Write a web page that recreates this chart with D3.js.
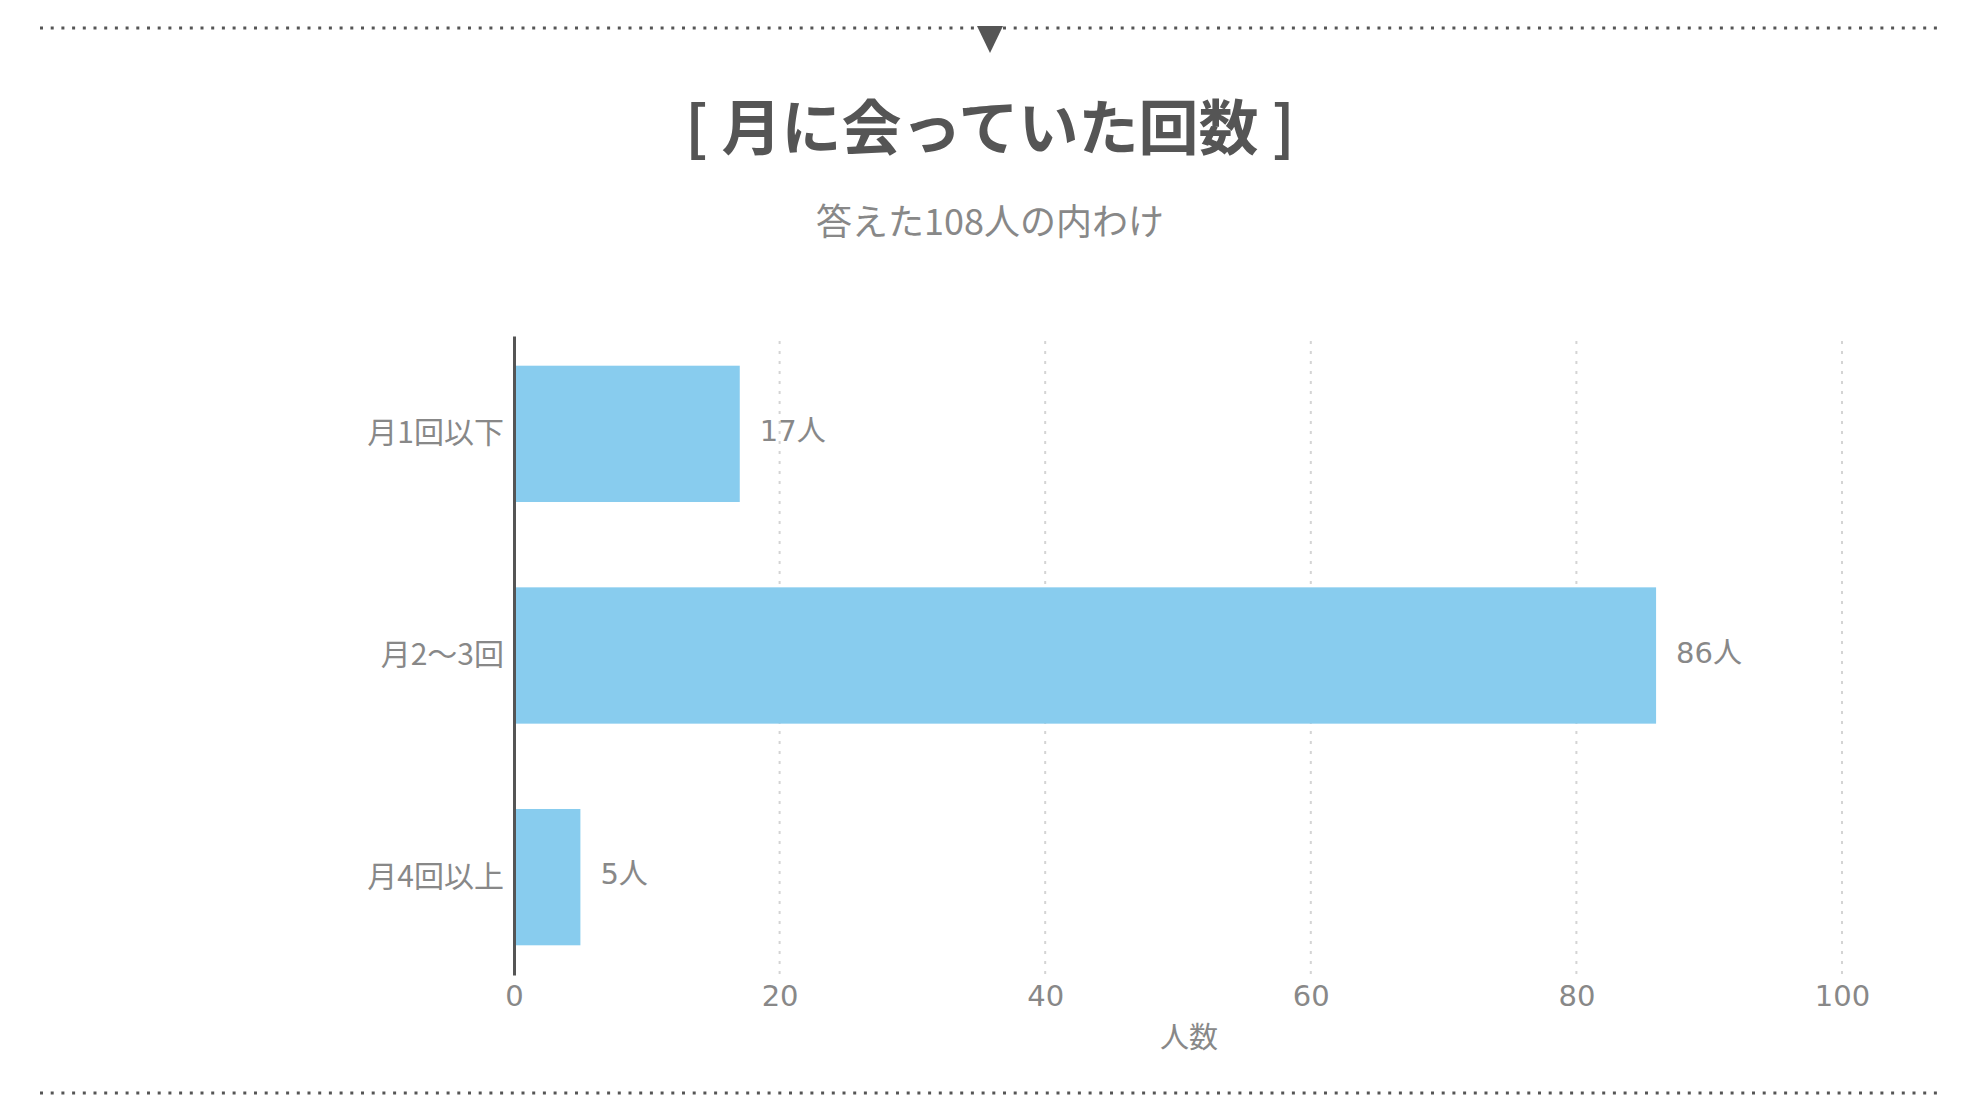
<!DOCTYPE html>
<html>
<head>
<meta charset="utf-8">
<script src="https://cdn.jsdelivr.net/npm/d3@7"></script>
<style>
  body { margin: 0; background: #fff; }
  text { font-family: "Noto Sans CJK JP", "Noto Sans", sans-serif; }
</style>
</head>
<body>
<script>
const categories = ['月1回以下', '月2〜3回', '月4回以上']
const counts = [17, 86, 5]
const xTicks = [0, 20, 40, 60, 80, 100]
const title = '[ 月に会っていた回数 ]'
const subtitle = '答えた108人の内わけ'
const xTitle = '人数'

const width = 1980
const height = 1120
const margin = { top: 336, right: 138, bottom: 145, left: 514 }
const numFont = '"DejaVu Sans", "Noto Sans CJK JP", sans-serif'

const svg = d3.select('body').append('svg')
  .attr('width', width)
  .attr('height', height)

// dotted frame lines + marker
const frame = [28, 1093]
svg.selectAll('line.frame').data(frame).enter().append('line')
  .attr('class', 'frame')
  .attr('x1', 40).attr('x2', 1941)
  .attr('y1', d => d).attr('y2', d => d)
  .style('stroke', '#555')
  .style('stroke-width', 3)
  .style('stroke-dasharray', '3,7.7')

svg.append('path')
  .attr('d', 'M977,26 L1003,26 L990,53 Z')
  .style('fill', '#555')

svg.append('text')
  .attr('x', width / 2).attr('y', 123)
  .attr('text-anchor', 'middle')
  .attr('dominant-baseline', 'central')
  .style('font-size', '60px')
  .style('font-weight', 700)
  .style('fill', '#555')
  .text(title)

svg.append('text')
  .attr('x', width / 2).attr('y', 219)
  .attr('text-anchor', 'middle')
  .attr('dominant-baseline', 'central')
  .style('font-size', '36px')
  .style('fill', '#888')
  .text(subtitle)

const x = d3.scaleLinear()
  .domain([0, 100])
  .range([margin.left, width - margin.right])

const y = d3.scaleBand()
  .domain(categories)
  .range([margin.top, height - margin.bottom])
  .paddingInner(0.385)
  .paddingOuter(0.134)

const g = svg.append('g')

// grid
g.selectAll('line.grid').data(xTicks.slice(1)).enter().append('line')
  .attr('class', 'grid')
  .attr('x1', d => x(d)).attr('x2', d => x(d))
  .attr('y1', 341).attr('y2', 974)
  .style('stroke', '#d4d4d4')
  .style('stroke-width', 2)
  .style('stroke-dasharray', '3,7')

// bars
g.selectAll('rect').data(counts).enter().append('rect')
  .attr('x', x(0))
  .attr('y', (d, i) => y(categories[i]))
  .attr('width', d => x(d) - x(0))
  .attr('height', y.bandwidth())
  .style('fill', '#88CCEE')

g.selectAll('text.value').data(counts).enter().append('text')
  .attr('class', 'value')
  .attr('x', d => x(d) + 20)
  .attr('y', (d, i) => y(categories[i]) + y.bandwidth() / 2 - 3)
  .attr('dominant-baseline', 'central')
  .style('font-size', '29px')
  .style('font-family', numFont)
  .style('fill', '#888')
  .text(d => d + '人')

// y axis
const yAxis = g.append('g')
  .attr('transform', `translate(${margin.left},0)`)
  .call(d3.axisLeft(y).tickSize(0).tickPadding(10))
yAxis.select('.domain').style('stroke', '#555').style('stroke-width', 3)
yAxis.selectAll('text')
  .style('font-size', '30px')
  .style('fill', '#888')
  .style('font-family', '"Noto Sans CJK JP", sans-serif')

// x axis labels
const xAxis = g.append('g')
  .attr('transform', `translate(0,${height - margin.bottom})`)
  .call(d3.axisBottom(x).tickValues(xTicks).tickSize(0).tickPadding(10))
xAxis.select('.domain').remove()
xAxis.selectAll('text')
  .style('font-size', '29px')
  .style('fill', '#888')
  .style('font-family', numFont)

svg.append('text')
  .attr('x', 1189).attr('y', 1035)
  .attr('text-anchor', 'middle')
  .attr('dominant-baseline', 'central')
  .style('font-size', '29px')
  .style('fill', '#888')
  .text(xTitle)
</script>
</body>
</html>
